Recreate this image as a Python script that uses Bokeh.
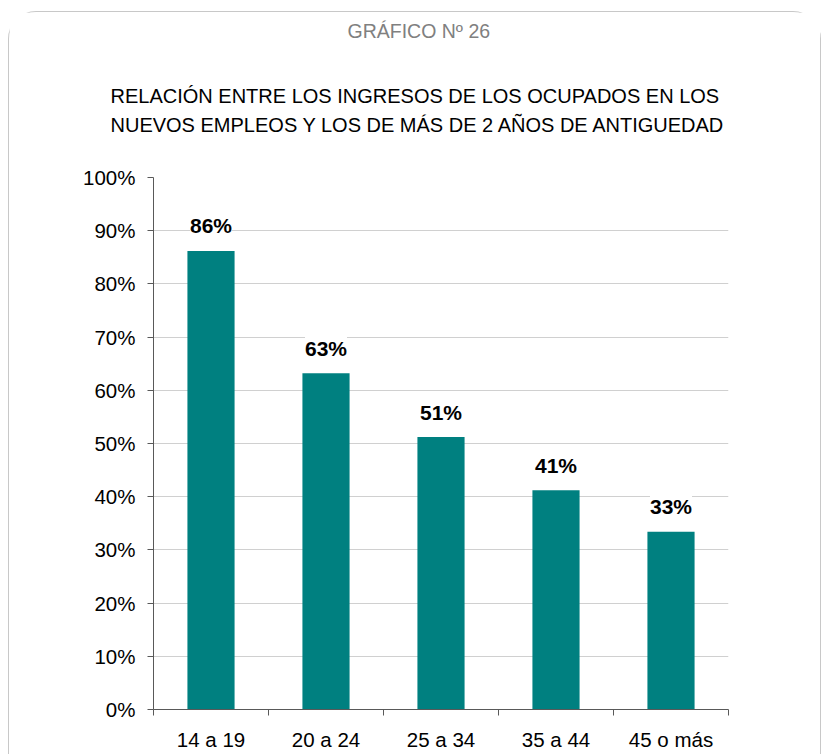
from bokeh.plotting import figure
from bokeh.models import (ColumnDataSource, Range1d, LinearAxis, FixedTicker,
                          PrintfTickFormatter, LabelSet, Title, CustomJSTickFormatter)
from bokeh.core.properties import value
from bokeh.embed import file_html
from bokeh.resources import INLINE

# ---- data ----
categories = ["14 a 19", "20 a 24", "25 a 34", "35 a 44", "45 o más"]
values = [86.2, 63.2, 51.2, 41.2, 33.4]
y_ticks = [0, 10, 20, 30, 40, 50, 60, 70, 80, 90, 100]
header = "GRÁFICO Nº 26"
title_lines = ["RELACIÓN ENTRE LOS INGRESOS DE LOS OCUPADOS EN LOS",
               "NUEVOS EMPLEOS Y LOS DE MÁS DE 2 AÑOS DE ANTIGUEDAD"]

FONT = "Liberation Sans"
BAR = "#008080"
AXIS = "#595959"

n = len(categories)
positions = [i + 0.5 for i in range(n)]
labels = [f"{round(v)}%" for v in values]
src = ColumnDataSource(dict(x=positions, cat=categories, val=values, lab=labels))

p = figure(x_range=Range1d(0, n), y_range=Range1d(0, 100),
           width=813, height=743, output_backend="svg", toolbar_location=None,
           x_axis_location=None, y_axis_location="left",
           min_border_left=144, min_border_right=94, min_border_top=165, min_border_bottom=46)
p.styles = {"border": "1px solid #c8c8c8", "border-bottom": "none",
            "border-radius": "28px 28px 0 0", "margin-left": "8px", "margin-top": "11px"}
p.outline_line_color = None
p.background_fill_color = "white"
p.border_fill_color = "white"

p.vbar(x="x", top="val", width=0.41, source=src, fill_color=BAR, line_color=None)

# y axis
p.yaxis.ticker = FixedTicker(ticks=y_ticks)
p.yaxis.formatter = PrintfTickFormatter(format="%d%%")
p.yaxis.axis_line_color = AXIS
p.yaxis.major_tick_line_color = AXIS
p.yaxis.major_tick_out = 6
p.yaxis.major_tick_in = 0
p.yaxis.minor_tick_line_color = None
p.yaxis.major_label_standoff = 12
p.yaxis.major_label_text_font = FONT
p.yaxis.major_label_text_font_size = "20.5px"
p.yaxis.major_label_text_color = "black"

p.ygrid.ticker = FixedTicker(ticks=y_ticks)
p.ygrid.grid_line_color = "#d0d0d0"
p.xgrid.grid_line_color = None

# x axis: boundary ticks + category labels
tick_axis = LinearAxis(ticker=FixedTicker(ticks=list(range(n + 1))),
                       formatter=CustomJSTickFormatter(code="return ''"),
                       major_label_standoff=0, major_label_text_font_size="1px",
                       major_tick_out=6, major_tick_in=0, minor_tick_line_color=None,
                       axis_line_color=AXIS, major_tick_line_color=AXIS)
p.add_layout(tick_axis, "below")
cat_axis = LinearAxis(ticker=FixedTicker(ticks=positions),
                      major_label_overrides={pos: c for pos, c in zip(positions, categories)},
                      axis_line_color=None, major_tick_line_color=None,
                      minor_tick_line_color=None, major_label_standoff=6,
                      major_label_text_font=FONT, major_label_text_font_size="20.5px",
                      major_label_text_color="black")
p.add_layout(cat_axis, "below")

# data labels
label_kw = {}
if "padding" in LabelSet.properties():
    label_kw["padding"] = 5
p.add_layout(LabelSet(x="x", y="val", text="lab", source=src, text_align="center",
                      text_baseline="middle", y_offset=25, text_font=value(FONT),
                      text_font_size="21px", text_font_style="bold", text_color="black",
                      background_fill_color="white", **label_kw))

# titles (stacked outward from the frame)
p.add_layout(Title(text="\n".join(title_lines), align="left", offset=-43, standoff=82,
                   text_font=FONT, text_font_size="20px", text_font_style="normal",
                   text_line_height=1.35, text_color="black"), "above")
p.add_layout(Title(text=header, align="left", offset=194, standoff=0,
                   text_font=FONT, text_font_size="19.5px", text_font_style="normal",
                   text_color="#808080"), "above")

open("out.html", "w").write(file_html(p, INLINE))
